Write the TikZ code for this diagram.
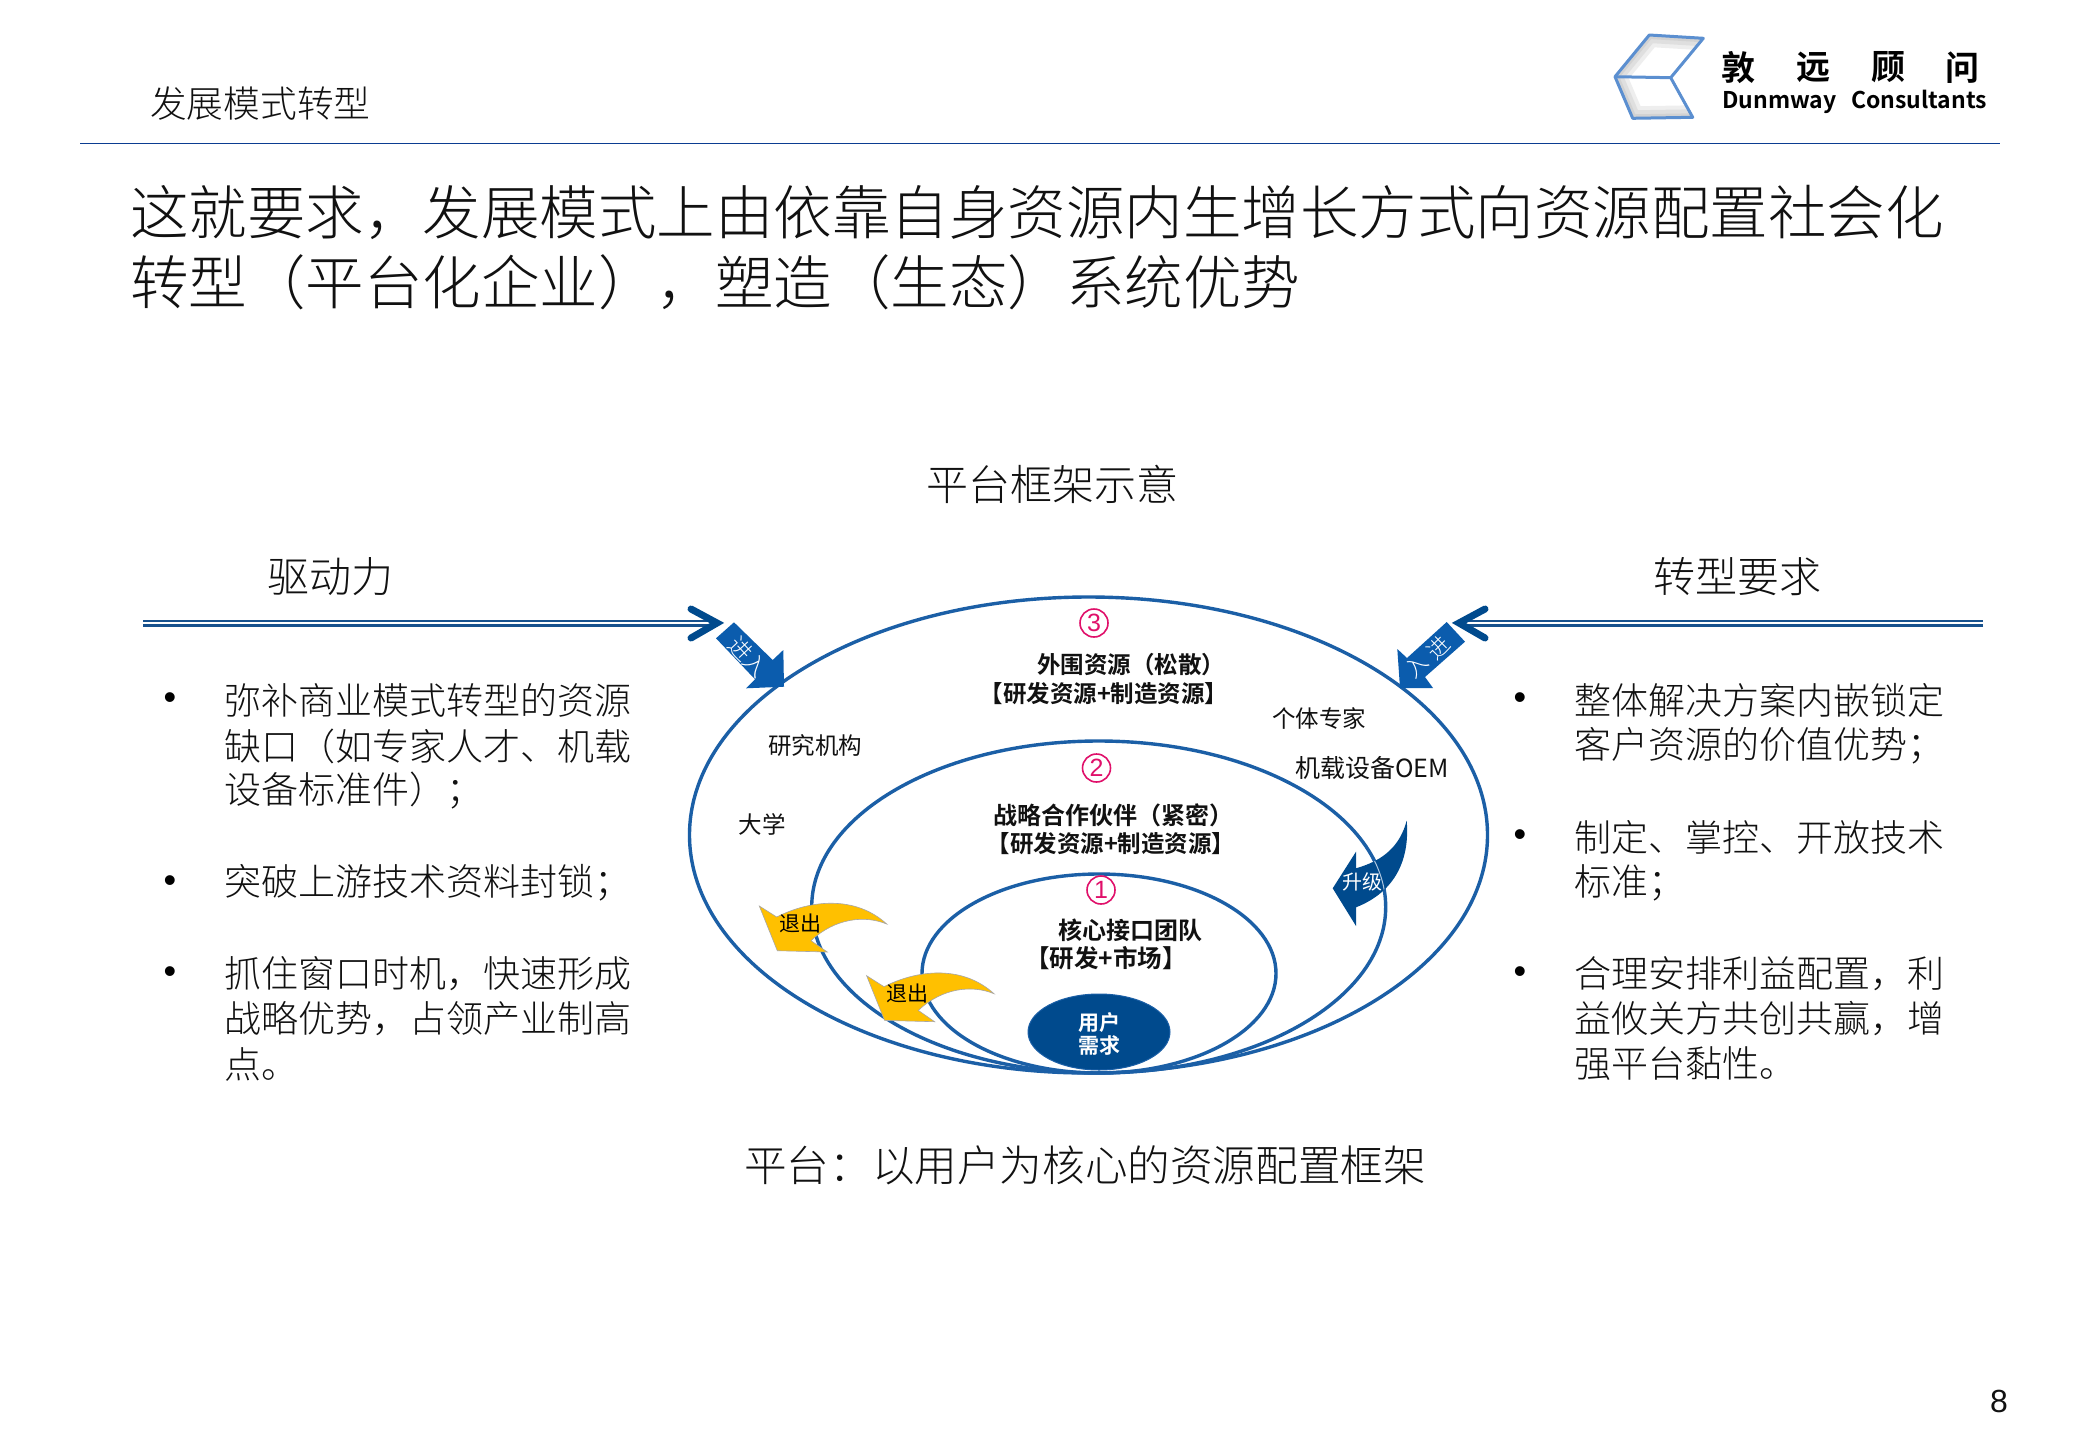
\documentclass[tikz,border=0pt]{standalone}
\usepackage{fontspec}
\usetikzlibrary{shapes.geometric}
\setmainfont{Noto Sans CJK SC}[UprightFont=* Light,BoldFont=* Bold]
\newfontfamily\logofont{Noto Sans CJK SC}[UprightFont=* Bold]
\newfontfamily\regfont{Noto Sans CJK SC}
\newfontfamily\numfont{Liberation Sans}
\newcommand{\fsz}[1]{\fontsize{#1}{#1}\selectfont}
\definecolor{rule}{HTML}{0B3D91}
\definecolor{ring}{HTML}{1B5FA6}
\definecolor{navy}{HTML}{004A8D}
\definecolor{enter}{HTML}{0B5CAD}
\definecolor{gold}{HTML}{FFC000}
\definecolor{pinkn}{HTML}{E0106A}
\definecolor{logob}{HTML}{5B8FD0}
\definecolor{ink}{HTML}{111111}
\tikzset{
 lbl/.style={inner sep=0,text=ink,anchor=west},
 ctr/.style={inner sep=0,text=ink,anchor=center},
 bul/.style={inner sep=0,text=black,font=\numfont\fsz{36}},
 ringe/.style={ellipse,draw=ring,line width=3.4pt,inner sep=0,fill=none},
 dbl/.style={draw=ring!85!black,line width=2.8pt,double=white,double distance=1.4pt},
 chev/.style={draw=navy,line width=7pt,line cap=round,line join=miter},
 numc/.style={circle,draw=pinkn,line width=1.6pt,inner sep=0,minimum size=28pt,text=pinkn,font=\numfont\fsz{25}},
 exitarrow/.style={fill=gold,draw=gray!70,line width=.6pt},
 wtxt/.style={inner sep=0,text=white},
 logoline/.style={draw=logob,line width=3pt,line join=round},
 halo/.style={draw=gray,opacity=.13},
}
\begin{document}
\begin{tikzpicture}[x=1pt,y=-1pt]
\useasboundingbox[fill=white] (0,0) rectangle (2080,1440);
% header
\coordinate (hl) at (80,143.5); \coordinate (hr) at (2000,143.5);
\draw[rule,line width=1.8pt] (hl) -- (hr);
\node[lbl,font=\fsz{36.7}] (head) at (150,104) {发展模式转型};
% logo
\coordinate (la) at (1615,76.7); \coordinate (lb) at (1649.3,35); \coordinate (lc) at (1703.3,38.3);
\coordinate (ld) at (1670.7,77.7); \coordinate (le) at (1692.7,117.3); \coordinate (lf) at (1632.7,118.3);
\begin{scope}
\clip (la) -- (lb) -- (lc) -- (ld) -- cycle;
\foreach \w in {24,16,8} \draw[halo,line width=\w pt] (la) -- (lb) -- (lc);
\end{scope}
\begin{scope}
\clip (la) -- (ld) -- (le) -- (lf) -- cycle;
\foreach \w in {24,16,8} \draw[halo,line width=\w pt] (la) -- (lf) -- (le);
\end{scope}
\draw[logoline] (la) -- (lb) -- (lc) -- (ld) -- (le) -- (lf) -- cycle;
\draw[logoline] (la) -- (ld);
\node[ctr,text=black,font=\logofont\fsz{34}] (lg1) at (1738,67.5) {敦};
\node[ctr,text=black,font=\logofont\fsz{34}] (lg2) at (1813,67.5) {远};
\node[ctr,text=black,font=\logofont\fsz{34}] (lg3) at (1888,67.5) {顾};
\node[ctr,text=black,font=\logofont\fsz{34}] (lg4) at (1962,67.5) {问};
\node[inner sep=0,anchor=base west,text=black,font=\logofont\fsz{23}] (lg5) at (1722,108.5) {Dunmway};
\node[inner sep=0,anchor=base west,text=black,font=\logofont\fsz{23}] (lg6) at (1851,108.5) {Consultants};
% title
\node[lbl,font=\fsz{58.5}] (t1) at (130,212) {这就要求，发展模式上由依靠自身资源内生增长方式向资源配置社会化};
\node[lbl,font=\fsz{58.5}] (t2) at (130,282) {转型（平台化企业），塑造（生态）系统优势};
% section heads
\node[ctr,font=\fsz{42}] (frame) at (1052,484) {平台框架示意};
\node[ctr,font=\fsz{42}] (drive) at (330,577) {驱动力};
\node[ctr,font=\fsz{42}] (req) at (1737,577) {转型要求};
\node[ctr,font=\fsz{42.6}] (cap) at (1085,1165) {平台：以用户为核心的资源配置框架};
% double lines
\coordinate (al) at (143,623); \coordinate (alt) at (716,623);
\coordinate (ar) at (1983,623); \coordinate (art) at (1460,623);
\path[dbl] (al) -- (alt);
\path[dbl] (ar) -- (art);
\coordinate (c1) at (691,609); \coordinate (c2) at (717,623); \coordinate (c3) at (691,638);
\coordinate (c4) at (1485,609); \coordinate (c5) at (1459,623); \coordinate (c6) at (1485,638);
\draw[chev] (c1) -- (c2) -- (c3);
\draw[chev] (c4) -- (c5) -- (c6);
% left bullets
\node[bul] (bl1) at (170,701) {•};
\node[lbl,font=\fsz{37}] (l1a) at (224,700) {弥补商业模式转型的资源};
\node[lbl,font=\fsz{37}] (l1b) at (224,746) {缺口（如专家人才、机载};
\node[lbl,font=\fsz{37}] (l1c) at (224,791) {设备标准件）；};
\node[bul] (bl2) at (170,884) {•};
\node[lbl,font=\fsz{37}] (l2a) at (224,883) {突破上游技术资料封锁；};
\node[bul] (bl3) at (170,975) {•};
\node[lbl,font=\fsz{37}] (l3a) at (224,974) {抓住窗口时机，快速形成};
\node[lbl,font=\fsz{37}] (l3b) at (224,1019) {战略优势，占领产业制高};
\node[lbl,font=\fsz{37}] (l3c) at (224,1064) {点。};
% right bullets
\node[bul] (br1) at (1520,701) {•};
\node[lbl,font=\fsz{37}] (r1a) at (1574,700) {整体解决方案内嵌锁定};
\node[lbl,font=\fsz{37}] (r1b) at (1574,746) {客户资源的价值优势；};
\node[bul] (br2) at (1520,838) {•};
\node[lbl,font=\fsz{37}] (r2a) at (1574,837) {制定、掌控、开放技术};
\node[lbl,font=\fsz{37}] (r2b) at (1574,883) {标准；};
\node[bul] (br3) at (1520,975) {•};
\node[lbl,font=\fsz{37}] (r3a) at (1574,974) {合理安排利益配置，利};
\node[lbl,font=\fsz{37}] (r3b) at (1574,1019) {益攸关方共创共赢，增};
\node[lbl,font=\fsz{37}] (r3c) at (1574,1064) {强平台黏性。};
% rings
\node[ringe,minimum width=798pt,minimum height=476pt] (outer) at (1088.5,835) {};
\node[ringe,minimum width=574pt,minimum height=332pt] (mid) at (1098.7,907) {};
\node[ringe,minimum width=354pt,minimum height=199pt] (inner) at (1099,973.5) {};
\node[ellipse,fill=navy,draw=ring,line width=1pt,inner sep=0,minimum width=142pt,minimum height=76pt] (user) at (1099,1032) {};
\node[wtxt,font=\bfseries\fsz{21}] (u1) at (1099,1023) {用户};
\node[wtxt,font=\bfseries\fsz{21}] (u2) at (1099,1045) {需求};
% numbers
\node[numc] (n3) at (1094,623) {3};
\node[numc] (n2) at (1096.5,768) {2};
\node[numc] (n1) at (1101,890) {1};
% labels
\node[ctr,font=\bfseries\fsz{23.5}] (o1) at (1131,665) {外围资源（松散）};
\node[ctr,font=\bfseries\fsz{23.5}] (o2) at (1104,694) {【研发资源+制造资源】};
\node[ctr,font=\regfont\fsz{23.5}] (o3) at (1319,718) {个体专家};
\node[ctr,font=\regfont\fsz{23.5}] (o4) at (815,746) {研究机构};
\node[ctr,font=\regfont\fsz{23.5}] (o5) at (762,824) {大学};
\node[ctr,font=\regfont\fsz{25}] (o6) at (1372,768) {机载设备OEM};
\node[ctr,font=\bfseries\fsz{24}] (m1) at (1113,815) {战略合作伙伴（紧密）};
\node[ctr,font=\bfseries\fsz{23.5}] (m2) at (1111,844) {【研发资源+制造资源】};
\node[ctr,font=\bfseries\fsz{24}] (i1) at (1130,930) {核心接口团队};
\node[ctr,font=\bfseries\fsz{24.5}] (i2) at (1106,958) {【研发+市场】};
% enter arrows
\fill[enter] (734,622.3) -- (772.7,660) -- (783.3,650) -- (784,686.7) -- (746,688.3) -- (755,679.3) -- (716,638.3) -- cycle;
\fill[enter] (1446.7,622) -- (1407,658) -- (1397.3,649) -- (1400,688) -- (1433,688) -- (1425,677) -- (1465,641.7) -- cycle;
\node[wtxt,font=\fsz{23},rotate=-47] (e1) at (748,657) {进入};
\node[wtxt,font=\fsz{22},rotate=45] (e2a) at (1438,648) {进};
\node[wtxt,font=\fsz{22},rotate=45] (e2b) at (1417,666) {入};
% upgrade arrow
\def\upgpath{(1406.7,820.7) .. controls (1400,845) and (1385,860) .. (1356,868.3) -- (1356,851.7) -- (1332.7,888.3) -- (1356,926) -- (1356,907.3) .. controls (1395,892) and (1410,860) .. (1406.7,820.7) -- cycle}
\fill[navy] \upgpath;
\begin{scope}
\clip \upgpath;
\node[ellipse,draw=ring!35,line width=1pt,inner sep=0,minimum width=574pt,minimum height=332pt] (midlight) at (1098.7,907) {};
\end{scope}
\node[wtxt,font=\regfont\fsz{20}] (up) at (1362,882) {升级};
% exit arrows
\def\exitpath{(759.3,906) -- (776.7,917) .. controls (810,900) and (855,895) .. (886.7,924) .. controls (865,915) and (835,918) .. (811,940.7) -- (827.3,952) -- (777.3,950.7) -- cycle}
\filldraw[exitarrow] \exitpath;
\begin{scope}[shift={(107.3,69.7)}]
\filldraw[exitarrow] \exitpath;
\end{scope}
\node[wtxt,text=black,font=\regfont\fsz{21}] (x1) at (800,923) {退出};
\node[wtxt,text=black,font=\regfont\fsz{21}] (x2) at (907,993) {退出};
% page number
\node[inner sep=0,text=ink,font=\numfont\fsz{32}] (pg) at (1999,1401) {8};
\end{tikzpicture}
\end{document}
